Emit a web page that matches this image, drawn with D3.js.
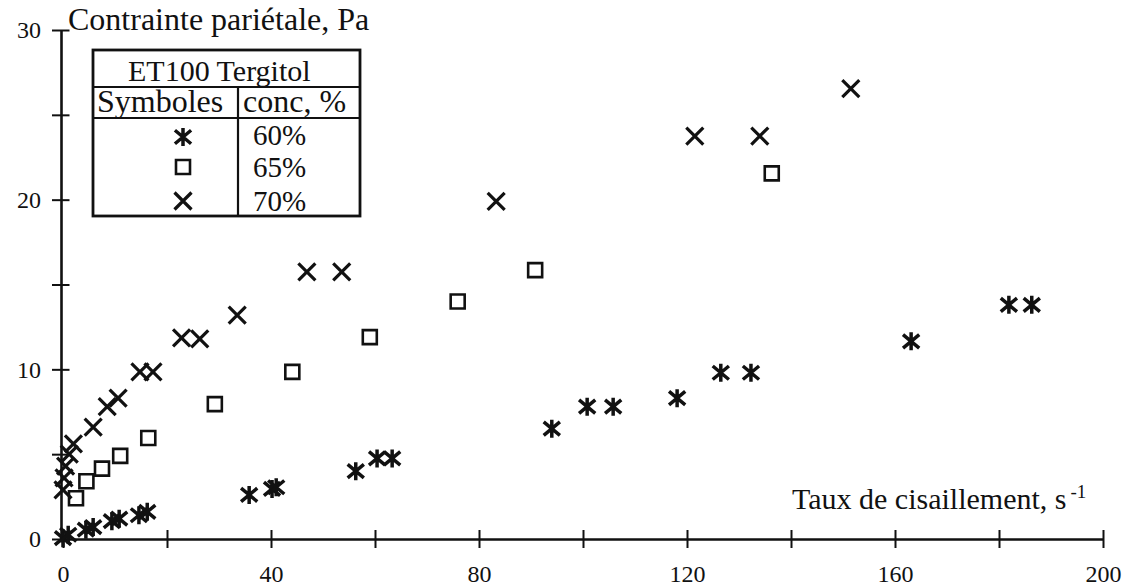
<!DOCTYPE html>
<html>
<head>
<meta charset="utf-8">
<script src="https://cdn.jsdelivr.net/npm/d3@7"></script>
<style>
  body { margin: 0; background: #fff; }
  svg { display: block; background: #fff; }
  text { font-family: "Liberation Serif", "Times New Roman", serif; fill: #111; }
</style>
</head>
<body>
<svg id="chart" width="1139" height="588"></svg>
<script>
// Wall shear stress (Pa) against shear rate (1/s) for ET100 Tergitol solutions

// 60 % solution (asterisks)
const rate60   = [0, 1.0, 4.4, 5.8, 9.4, 10.8, 14.6, 16.2, 35.8, 40.2, 41.0, 56.3, 60.4, 63.3,
                  94.0, 100.8, 105.8, 118.1, 126.5, 132.3, 163.1, 181.9, 186.3];
const stress60 = [0.05, 0.25, 0.55, 0.7, 1.05, 1.2, 1.4, 1.6, 2.6, 2.95, 3.05, 4.0, 4.75, 4.75,
                  6.5, 7.8, 7.8, 8.3, 9.8, 9.8, 11.65, 13.8, 13.8];

// 65 % solution (squares)
const rate65   = [2.5, 4.5, 7.5, 11.0, 16.4, 29.2, 44.1, 59.0, 75.9, 90.8, 136.3];
const stress65 = [2.4, 3.4, 4.15, 4.9, 5.95, 7.95, 9.85, 11.9, 14.0, 15.85, 21.55];

// 70 % solution (crosses)
const rate70   = [0, 0.2, 0.5, 1.2, 2.0, 5.8, 8.5, 10.6, 14.8, 17.3, 22.8, 26.3, 33.5,
                  46.9, 53.6, 83.3, 121.5, 134.0, 151.5];
const stress70 = [2.9, 3.6, 4.3, 5.0, 5.6, 6.6, 7.8, 8.3, 9.85, 9.85, 11.85, 11.8, 13.2,
                  15.75, 15.75, 19.9, 23.75, 23.75, 26.55];

const xTickValues = [0, 20, 40, 60, 80, 100, 120, 140, 160, 180, 200];
const xTickLabels = ["0", "", "40", "", "80", "", "120", "", "160", "", "200"];
const yTickValues = [0, 5, 10, 15, 20, 25, 30];
const yTickLabels = ["0", "", "10", "", "20", "", "30"];

const legendTitle = "ET100 Tergitol";
const legendHead  = ["Symboles", "conc, %"];
const legendConc  = ["60%", "65%", "70%"];
const legendShape = ["asterisk", "square", "cross"];

const yTitle = "Contrainte pariétale, Pa";
const xTitle = "Taux de cisaillement, s";
const xTitleSup = "-1";

const svg = d3.select("#chart");
const x = d3.scaleLinear().domain([0, 200]).range([63, 1103]);
const y = d3.scaleLinear().domain([0, 30]).range([539, 30]);

// marker path generators (half size r)
const shapes = {
  cross: r => `M${-r},${-r}L${r},${r}M${-r},${r}L${r},${-r}`,
  square: r => `M${-r},${-r}H${r}V${r}H${-r}Z`,
  asterisk: r => `M0,${-r}V${r}M${-r * 0.9},${-r * 0.75}L${r * 0.9},${r * 0.75}M${-r * 0.9},${r * 0.75}L${r * 0.9},${-r * 0.75}`
};
const shapeStyle = {
  cross: { r: 8.5, w: 3.2 },
  square: { r: 7, w: 2.6 },
  asterisk: { r: 9, w: 3.5 }
};

// ---- axes ----
const xAxis = d3.axisBottom(x).tickValues(xTickValues).tickSizeOuter(0)
  .tickFormat((d, i) => xTickLabels[i]);
const gx = svg.append("g").attr("transform", `translate(0,${y(0)})`).call(xAxis);
gx.select(".domain").attr("stroke", "#111").attr("stroke-width", 2.6);
gx.selectAll(".tick line").attr("stroke", "#111").attr("stroke-width", 2).attr("y1", -9).attr("y2", 9);
gx.selectAll(".tick text").attr("y", 43).attr("dy", 0).attr("font-size", 24)
  .style("font-family", '"Liberation Serif", "Times New Roman", serif').attr("fill", "#111");

const yAxis = d3.axisLeft(y).tickValues(yTickValues).tickSizeOuter(0)
  .tickFormat((d, i) => yTickLabels[i]);
const gy = svg.append("g").attr("transform", `translate(${x(0) - 2},0)`).call(yAxis);
gy.select(".domain").attr("stroke", "#111").attr("stroke-width", 2.6);
gy.selectAll(".tick line").attr("stroke", "#111").attr("stroke-width", 2).attr("x1", -9).attr("x2", 8.5);
gy.selectAll(".tick text").attr("x", -20).attr("dy", "0.33em").attr("font-size", 24)
  .style("font-family", '"Liberation Serif", "Times New Roman", serif').attr("fill", "#111");

// axis titles
svg.append("text").attr("x", 68).attr("y", 30).attr("font-size", 32).text(yTitle);
const xt = svg.append("text").attr("x", 792).attr("y", 509).attr("font-size", 30).text(xTitle);
xt.append("tspan").attr("dx", 4).attr("dy", -11).attr("font-size", 19).text(xTitleSup);

// ---- data points ----
function drawSeries(rates, stresses, shape) {
  const st = shapeStyle[shape];
  svg.append("g").selectAll("path")
    .data(rates.map((r, i) => [r, stresses[i]]))
    .join("path")
    .attr("transform", d => `translate(${x(d[0])},${y(d[1])})`)
    .attr("d", shapes[shape](st.r))
    .attr("fill", "none")
    .attr("stroke", "#111")
    .attr("stroke-width", st.w)
    .attr("stroke-linecap", "butt");
}
drawSeries(rate70, stress70, "cross");
drawSeries(rate65, stress65, "square");
drawSeries(rate60, stress60, "asterisk");

// ---- legend table ----
const lg = svg.append("g");
const L = 93, R = 360, T = 50, B = 216, rowH1 = 87, rowH2 = 118, colX = 238;
lg.append("rect").attr("x", L).attr("y", T).attr("width", R - L).attr("height", B - T)
  .attr("fill", "#fff").attr("stroke", "#111").attr("stroke-width", 2.8);
lg.append("line").attr("x1", L).attr("x2", R).attr("y1", rowH1).attr("y2", rowH1)
  .attr("stroke", "#111").attr("stroke-width", 2.2);
lg.append("line").attr("x1", L).attr("x2", R).attr("y1", rowH2).attr("y2", rowH2)
  .attr("stroke", "#111").attr("stroke-width", 2.2);
lg.append("line").attr("x1", colX).attr("x2", colX).attr("y1", rowH1).attr("y2", B)
  .attr("stroke", "#111").attr("stroke-width", 2.2);
lg.append("text").attr("x", 128).attr("y", 81).attr("font-size", 30).text(legendTitle);
lg.append("text").attr("x", 97).attr("y", 112).attr("font-size", 32).text(legendHead[0]);
lg.append("text").attr("x", 243).attr("y", 112).attr("font-size", 32).text(legendHead[1]);
const rowY = [145, 177, 211];
const symY = [137, 167, 201];
legendConc.forEach((c, i) => {
  lg.append("text").attr("x", 253).attr("y", rowY[i]).attr("font-size", 29).text(c);
  const st = shapeStyle[legendShape[i]];
  lg.append("path").attr("transform", `translate(183,${symY[i]})`)
    .attr("d", shapes[legendShape[i]](st.r))
    .attr("fill", "none").attr("stroke", "#111").attr("stroke-width", st.w);
});
</script>
</body>
</html>
